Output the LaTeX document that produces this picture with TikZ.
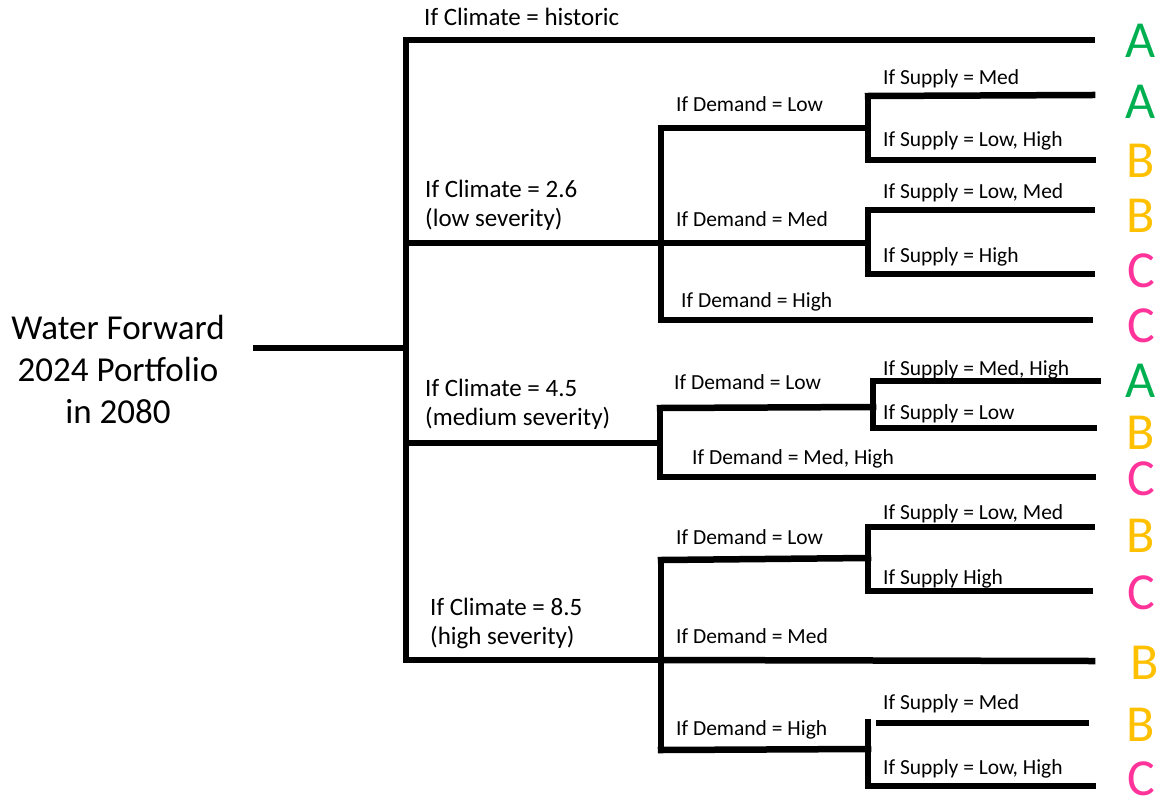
\documentclass[tikz,border=0pt]{standalone}
\usepackage{fontspec}
\setmainfont{Carlito}
\definecolor{gA}{HTML}{00B050}
\definecolor{yB}{HTML}{FFC000}
\definecolor{pC}{HTML}{FF3399}
\begin{document}
\begin{tikzpicture}[x=1pt,y=-1pt,
  br/.style={line width=6.5pt, line cap=rect, line join=miter},
  clab/.style={anchor=base west, inner sep=0pt, font=\fontsize{25}{30}\selectfont},
  dlab/.style={anchor=base west, inner sep=0pt, font=\fontsize{21.5}{26}\selectfont},
  res/.style={anchor=base, inner sep=0pt, font=\fontsize{52}{60}\selectfont},
  resA/.style={res, text=gA},
  resB/.style={res, text=yB},
  resC/.style={res, text=pC}]
\useasboundingbox (0,0) rectangle (1159,795);

% title
\node[align=center, inner sep=0pt, font=\fontsize{35}{42}\selectfont] (title) at (118,369)
  {Water Forward\\2024 Portfolio\\in 2080};

% climate level
\coordinate (r0) at (256,348);
\coordinate (r1) at (406,348);
\coordinate (cT) at (406,40);
\coordinate (cB) at (406,660);
\coordinate (c26) at (406,243);
\coordinate (c45) at (406,443);
\coordinate (hE) at (1092,40);
\draw[br] (r0) -- (r1);
\draw[br] (cT) -- (cB);
\draw[br] (cT) -- (hE);

% climate 2.6
\coordinate (d1T) at (661,128);
\coordinate (d1B) at (661,320);
\coordinate (d1M) at (661,243);
\draw[br] (c26) -- (d1M);
\draw[br] (d1T) -- (d1B);
\coordinate (s1T) at (868,96);
\coordinate (s1B) at (868,160);
\coordinate (s1M) at (868,128);
\draw[br] (d1T) -- (s1M);
\draw[br] (s1T) -- (s1B);
\coordinate (s1a) at (1092,95);
\coordinate (s1b) at (1093,160);
\draw[br] (s1T) -- (s1a);
\draw[br] (s1B) -- (s1b);
\coordinate (s2T) at (868,210);
\coordinate (s2B) at (868,274);
\coordinate (s2M) at (868,243);
\draw[br] (d1M) -- (s2M);
\draw[br] (s2T) -- (s2B);
\coordinate (s2a) at (1092,210);
\coordinate (s2b) at (1092,274);
\draw[br] (s2T) -- (s2a);
\draw[br] (s2B) -- (s2b);
\coordinate (d1H) at (1090,320);
\draw[br] (d1B) -- (d1H);

% climate 4.5
\coordinate (d2T) at (660,408);
\coordinate (d2B) at (660,477);
\coordinate (d2M) at (660,443);
\draw[br] (c45) -- (d2M);
\draw[br] (d2T) -- (d2B);
\coordinate (s3T) at (873,381);
\coordinate (s3B) at (873,428);
\coordinate (s3M) at (873,407);
\draw[br] (d2T) -- (s3M);
\draw[br] (s3T) -- (s3B);
\coordinate (s3a) at (1098,381);
\coordinate (s3b) at (1094,428);
\draw[br] (s3T) -- (s3a);
\draw[br] (s3B) -- (s3b);
\coordinate (d2H) at (1093,477);
\draw[br] (d2B) -- (d2H);

% climate 8.5
\coordinate (d3T) at (661,560);
\coordinate (d3B) at (661,750);
\coordinate (d3M) at (661,660);
\draw[br] (cB) -- (d3M);
\draw[br] (d3T) -- (d3B);
\coordinate (s4T) at (868,527);
\coordinate (s4B) at (868,591);
\coordinate (s4M) at (868,558);
\draw[br] (d3T) -- (s4M);
\draw[br] (s4T) -- (s4B);
\coordinate (s4a) at (1092,527);
\coordinate (s4b) at (1090,591);
\draw[br] (s4T) -- (s4a);
\draw[br] (s4B) -- (s4b);
\coordinate (d3E) at (1092,661);
\draw[br] (d3M) -- (d3E);
\coordinate (s5T) at (868,722);
\coordinate (s5B) at (868,786);
\coordinate (s5M) at (868,749);
\draw[br] (d3B) -- (s5M);
\draw[br] (s5T) -- (s5B);
\coordinate (s5s) at (879,723);
\coordinate (s5a) at (1086,723);
\coordinate (s5b) at (1093,786);
\draw[br] (s5s) -- (s5a);
\draw[br] (s5B) -- (s5b);

% climate labels
\node[clab] (lh) at (424,25) {If Climate = historic};
\node[clab] (l26a) at (425,197) {If Climate = 2.6};
\node[clab] (l26b) at (425,226) {(low severity)};
\node[clab] (l45a) at (425,396) {If Climate = 4.5};
\node[clab] (l45b) at (425,425) {(medium severity)};
\node[clab] (l85a) at (430,615) {If Climate = 8.5};
\node[clab] (l85b) at (430,644) {(high severity)};

% demand labels
\node[dlab] (ld1) at (676,111) {If Demand = Low};
\node[dlab] (ld2) at (676,226) {If Demand = Med};
\node[dlab] (ld3) at (681,307) {If Demand = High};
\node[dlab] (ld4) at (674,389) {If Demand = Low};
\node[dlab] (ld5) at (692,464) {If Demand = Med, High};
\node[dlab] (ld6) at (676,544) {If Demand = Low};
\node[dlab] (ld7) at (676,643) {If Demand = Med};
\node[dlab] (ld8) at (676,735) {If Demand = High};

% supply labels
\node[dlab] (ls1) at (883,84) {If Supply = Med};
\node[dlab] (ls2) at (883,146) {If Supply = Low, High};
\node[dlab] (ls3) at (883,198) {If Supply = Low, Med};
\node[dlab] (ls4) at (883,262) {If Supply = High};
\node[dlab] (ls5) at (883,375) {If Supply = Med, High};
\node[dlab] (ls6) at (883,419) {If Supply = Low};
\node[dlab] (ls7) at (883,519) {If Supply = Low, Med};
\node[dlab] (ls8) at (883,584) {If Supply High};
\node[dlab] (ls9) at (883,709) {If Supply = Med};
\node[dlab] (ls10) at (883,774) {If Supply = Low, High};

% results
\node[resA] (o1) at (1141,57) {A};
\node[resA] (o2) at (1141,118) {A};
\node[resB] (o3) at (1141,177) {B};
\node[resB] (o4) at (1141,232) {B};
\node[resC] (o5) at (1141,287) {C};
\node[resC] (o6) at (1141,342) {C};
\node[resA] (o7) at (1141,397) {A};
\node[resB] (o8) at (1141,449) {B};
\node[resC] (o9) at (1141,495) {C};
\node[resB] (o10) at (1141,552) {B};
\node[resC] (o11) at (1141,609) {C};
\node[resB] (o12) at (1145,679) {B};
\node[resB] (o13) at (1141,741) {B};
\node[resC] (o14) at (1141,795) {C};
\end{tikzpicture}
\end{document}
